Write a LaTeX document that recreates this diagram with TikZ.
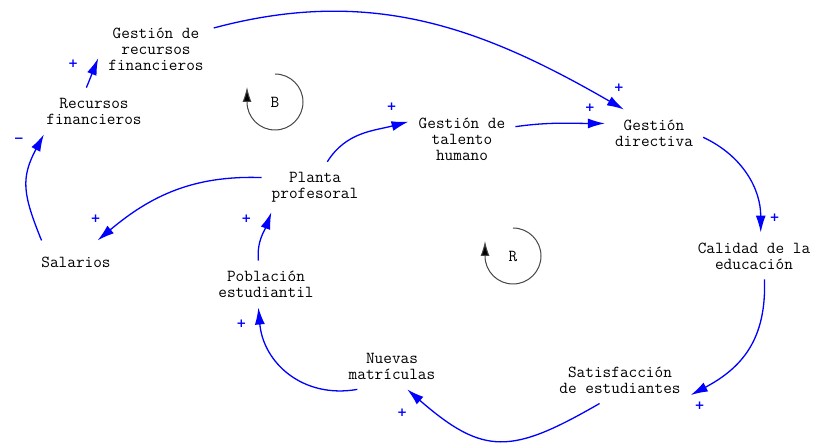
\documentclass[tikz,border=0pt]{standalone}
\usepackage{fontspec}
\newfontfamily\signfont{DejaVu Sans}
\usepackage{tikz}
\usetikzlibrary{arrows.meta, positioning}
\definecolor{linkblue}{RGB}{0,0,255}
\definecolor{loopgray}{RGB}{70,70,70}
\newcommand\loopmark[3]{% name, centre, letter
  \node (#1) at (#2) {#3};
  \draw [loopline] (#1.center) ++(0,28) arc (90:-180:28) -- ++(0,15);
}

\begin{document}
\begin{tikzpicture}[x=1pt, y=1pt,
  var/.style={align=center, inner sep=10pt},
  link/.style={draw=linkblue, line width=1.3pt, -{Latex[length=17pt, width=10pt]}},
  pol/.style={text=linkblue, font=\signfont\bfseries\fontsize{12}{12}\selectfont, inner sep=0pt},
  loopline/.style={draw=loopgray, line width=1pt, -{Latex[length=15pt, width=9pt, fill=black]}},
  every node/.append style={font=\ttfamily\fontsize{16.8}{16}\selectfont}]
\useasboundingbox (0,0) rectangle (814,444);

% variables
\node [var] (grf) at (156,395) {Gesti\'on de\\recursos\\financieros};
\node [var] (rf) at (94,333) {Recursos\\financieros};
\node [var] (gth) at (462,305) {Gesti\'on de\\talento\\humano};
\node [var] (gd) at (654,311) {Gesti\'on\\directiva};
\node [var] (pp) at (315,257) {Planta\\profesoral};
\node [var, inner ysep=16pt] (sal) at (76,182) {Salarios};
\node [var] (pe) at (266,160) {Poblaci\'on\\estudiantil};
\node [var] (cde) at (754,188) {Calidad de la\\educaci\'on};
\node [var] (nm) at (392,78) {Nuevas\\matr\'iculas};
\node [var] (se) at (620,64) {Satisfacci\'on\\de estudiantes};

% loops
\loopmark{lb}{275,342}{B}
\loopmark{lr}{513,188}{R}

% links
\draw [link] (sal.148) to[out=112, in=-118, looseness=1.2] node[pol, pos=1, xshift=-25pt, yshift=-6pt] {−} (rf.-155);
\draw [link] (rf.108) -- node[pol, pos=1, xshift=-25pt, yshift=-6pt] {+} (grf.189);
\draw [link] (grf.20) to[out=15, in=150] node[pol, pos=1, xshift=-5pt, yshift=22pt] {+} (gd.142);
\draw [link] (gth.13) to[out=8, in=180] node[pol, pos=1, xshift=-15pt, yshift=16pt] {+} (gd.169);
\draw [link] (pp.64) to[out=58, in=195] node[pol, pos=1, xshift=-17pt, yshift=15pt] {+} (gth.162);
\draw [link] (pp.170) to[out=178, in=40] node[pol, pos=1, xshift=-2pt, yshift=22pt] {+} (sal.45);
\draw [link] (pe.108) to[out=95, in=-110] node[pol, pos=1, xshift=-25pt, yshift=-7pt] {+} (pp.-150);
\draw [link] (gd.-5) to[out=-25, in=90] node[pol, pos=1, xshift=14pt, yshift=15pt] {+} (cde.74);
\draw [link] (cde.-66) to[out=-88, in=28, looseness=1.1] node[pol, pos=1, xshift=9pt, yshift=-11pt] {+} (se.-12);
\draw [link] (se.-131) to[out=-150, in=-41, looseness=1.35] node[pol, pos=1, xshift=-5pt, yshift=-23pt] {+} (nm.-57);
\draw [link] (nm.-146) to[out=-170, in=-85, looseness=1.1] node[pol, pos=1, xshift=-17pt, yshift=-16pt] {+} (pe.-108);
\end{tikzpicture}
\end{document}
